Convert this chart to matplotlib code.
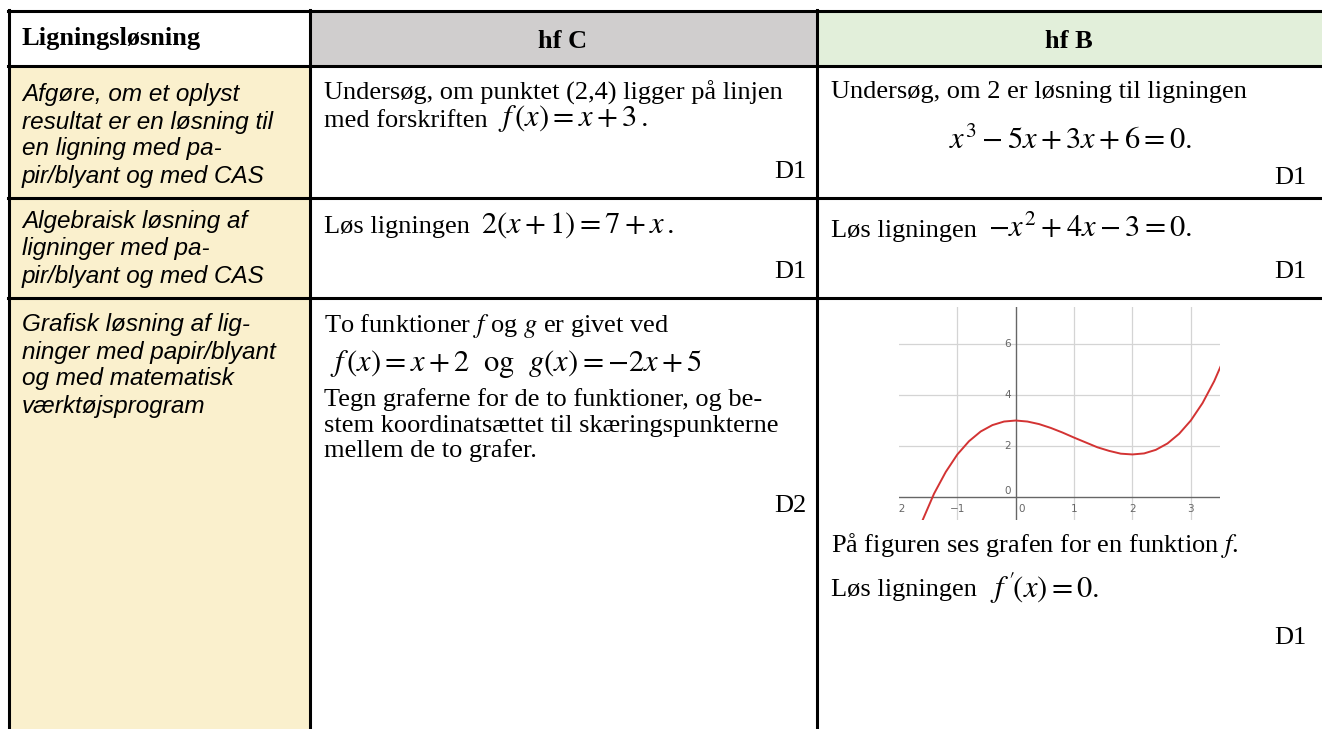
import matplotlib
matplotlib.use("Agg")
import matplotlib.pyplot as plt
from matplotlib.patches import Rectangle
from matplotlib.lines import Line2D

plt.rcParams['mathtext.fontset'] = 'stix'

# table text
headers = ["Ligningsløsning", "hf C", "hf B"]
row_labels = [
    ["Afgøre, om et oplyst", "resultat er en løsning til", "en ligning med pa-", "pir/blyant og med CAS"],
    ["Algebraisk løsning af", "ligninger med pa-", "pir/blyant og med CAS"],
    ["Grafisk løsning af lig-", "ninger med papir/blyant", "og med matematisk", "værktøjsprogram"],
]
levels = ["D1", "D1", "D1", "D1", "D2", "D1"]

# graph of f
curve_x = [-1.6, -1.4, -1.2, -1.0, -0.8, -0.6, -0.4, -0.2, 0.0, 0.2, 0.4, 0.6, 0.8, 1.0,
           1.2, 1.4, 1.6, 1.8, 2.0, 2.2, 2.4, 2.6, 2.8, 3.0, 3.2, 3.4, 3.6]
curve_y = [-0.93, 0.13, 0.98, 1.67, 2.19, 2.57, 2.82, 2.96, 3.00, 2.96, 2.86, 2.71, 2.53, 2.33,
           2.14, 1.95, 1.81, 1.70, 1.67, 1.71, 1.85, 2.10, 2.48, 3.00, 3.68, 4.54, 5.59]
xticks = [-2, -1, 0, 1, 2, 3]
yticks = [0, 2, 4, 6]

W, H = 1322, 729
fig = plt.figure(figsize=(W / 100, H / 100), dpi=100)

SERIF = 'Liberation Serif'
SANS = 'Liberation Sans'
BODY = 19
MATH = 22


def fx(px):
    return px / W


def fy(py):
    return 1 - py / H


def put(px, py, s, size=BODY, family=SERIF, **kw):
    kw.setdefault('va', 'center')
    fig.text(fx(px), fy(py), s, fontsize=size, family=family, **kw)


def box(x0, y0, x1, y1, color):
    fig.patches.append(Rectangle((fx(x0), fy(y1)), fx(x1) - fx(x0), fy(y0) - fy(y1),
                                 transform=fig.transFigure, facecolor=color, edgecolor='none', zorder=0))


def hline(y, x0, x1):
    fig.lines.append(Line2D([fx(x0), fx(x1)], [fy(y), fy(y)], transform=fig.transFigure,
                            color='black', lw=2.2, zorder=5))


def vline(x, y0, y1):
    fig.lines.append(Line2D([fx(x), fx(x)], [fy(y0), fy(y1)], transform=fig.transFigure,
                            color='black', lw=2.2, zorder=5))


# cell fills
box(310, 11, 817, 66, '#d0cece')
box(817, 11, W, 66, '#e2efda')
box(9, 66, 310, H, '#faf0cd')

# borders
for y in [11, 66, 198, 298]:
    hline(y, 8, W)
for x in [9, 310, 817]:
    vline(x, 10, H)

# header
put(22, 39, headers[0], weight='bold')
put(563, 41, headers[1], weight='bold', ha='center')
put(1069, 41, headers[2], weight='bold', ha='center')

# left column
for rows, y0 in zip(row_labels, [95, 222, 325]):
    for i, line in enumerate(rows):
        put(22, y0 + 27 * i, line, size=17.5, family=SANS, style='italic')

# middle column
put(324, 93, "Undersøg, om punktet (2,4) ligger på linjen")
put(324, 121, "med forskriften")
put(498, 119, r"$f\,(x)=x+3\,.$", size=MATH)
put(806, 172, levels[0], ha='right')

put(324, 227, "Løs ligningen")
put(481, 225, r"$2(x+1)=7+x\,.$", size=MATH)
put(806, 272, levels[2], ha='right')

put(324, 326, "To funktioner $f$ og $g$ er givet ved")
put(330, 364, r"$f\,(x)=x+2\ \ \mathrm{og}\ \ g(x)=-2x+5$", size=MATH)
put(324, 400, "Tegn graferne for de to funktioner, og be-")
put(324, 426, "stem koordinatsættet til skæringspunkterne")
put(324, 451, "mellem de to grafer.")
put(806, 506, levels[4], ha='right')

# right column
put(831, 92, "Undersøg, om 2 er løsning til ligningen")
put(1070, 141, r"$x^3-5x+3x+6=0.$", size=MATH, ha='center')
put(1306, 178, levels[1], ha='right')

put(831, 231, "Løs ligningen")
put(988, 229, r"$-x^2+4x-3=0.$", size=MATH)
put(1306, 272, levels[3], ha='right')

put(831, 545, "På figuren ses grafen for en funktion $f$.")
put(831, 590, "Løs ligningen")
put(990, 588, r"$f^{\,\prime}\!(x)=0.$", size=MATH)
put(1306, 638, levels[5], ha='right')

# small graph
ax = fig.add_axes([fx(899), fy(520), fx(1220) - fx(899), fy(307) - fy(520)])
ax.set_xlim(-2.0, 3.5)
ax.set_ylim(-0.9, 7.45)
for s in ax.spines.values():
    s.set_visible(False)
ax.set_xticks([])
ax.set_yticks([])
for v in xticks[1:]:
    if v != 0:
        ax.axvline(v, color='#d4d4d4', lw=0.9, zorder=1)
for v in yticks[1:]:
    ax.axhline(v, color='#d4d4d4', lw=0.9, zorder=1)
ax.axhline(0, color='#666666', lw=1.0, zorder=2)
ax.axvline(0, color='#666666', lw=1.0, zorder=2)
ax.plot(curve_x, curve_y, color='#d33333', lw=1.4, zorder=3)
for v in xticks:
    off = 0.1 if v == 0 else 0.0
    lab = str(v).replace('-', '\u2212')
    ax.text(v + off, -0.45, lab, fontsize=7.5, color='#666666', ha='center', va='center',
            family='DejaVu Sans', clip_on=True)
for v in yticks:
    ax.text(-0.08, v + (0.25 if v == 0 else 0), str(v), fontsize=7.5, color='#666666',
            ha='right', va='center', family='DejaVu Sans')

fig.savefig('out.png', dpi=100)
